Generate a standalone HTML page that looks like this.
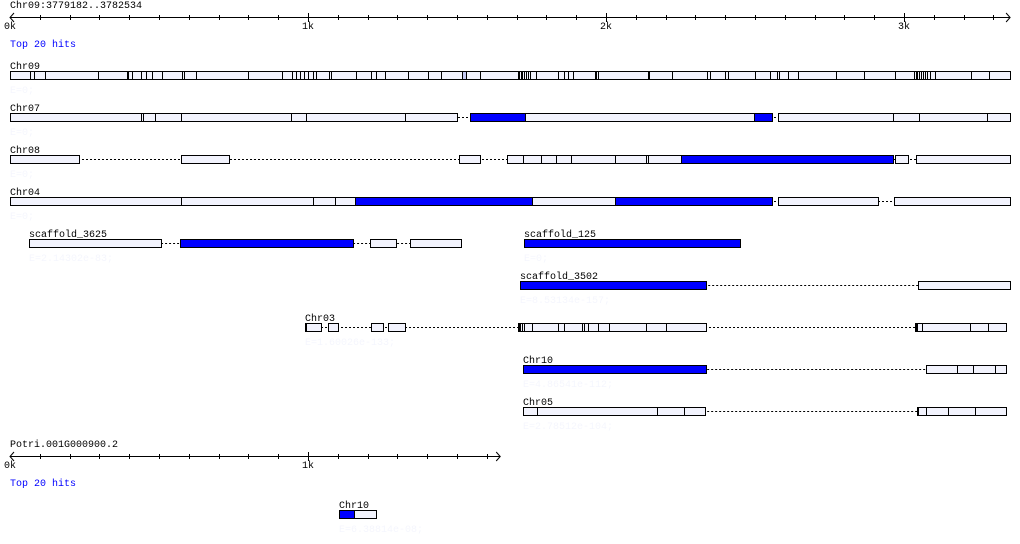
<!DOCTYPE html>
<html><head><meta charset="utf-8"><style>
html,body{margin:0;padding:0;background:#fff}
svg{display:block}
text{font-family:"Liberation Mono",monospace;font-size:10px}
</style></head><body>
<svg id="c" width="1020" height="544" xmlns="http://www.w3.org/2000/svg"></svg>
<script>
// bp coordinates
const titleTop = "Chr09:3779182..3782534";
const titleBottom = "Potri.001G000900.2";
const axisTopMax = 3356;
const axisBottomMax = 1645;
const tickLabels = ["0k","1k","2k","3k"];
const trackNames = ["Chr09","Chr07","Chr08","Chr04","scaffold_3625","scaffold_125","scaffold_3502","Chr03","Chr10","Chr05"];
const trackEvalues = ["E=0;","E=0;","E=0;","E=0;","E=2.14302e-83;","E=0;","E=8.53134e-157;","E=1.60026e-133;","E=4.86541e-112;","E=2.78512e-104;"];
const trackRows = [71,113,155,197,239,239,281,323,365,407];
const trackBlocks = [
 [[0,3356,"w"],[1517,1530,"s"]],
 [[0,1500,"w"],[1544,1728,"b"],[1728,2497,"w"],[2497,2557,"b"],[2577,3356,"w"]],
 [[0,232,"w"],[574,735,"w"],[1507,1577,"w"],[1668,2252,"w"],[2252,2963,"b"],[2970,3014,"w"],[3040,3356,"w"]],
 [[0,1158,"w"],[1158,1752,"b"],[1752,2030,"w"],[2030,2557,"b"],[2577,2913,"w"],[2967,3356,"w"]],
 [[64,507,"w"],[571,1151,"b"],[1208,1295,"w"],[1342,1514,"w"]],
 [[1725,2450,"b"]],
 [[1712,2336,"b"],[3047,3356,"w"]],
 [[990,1044,"w"],[1067,1101,"w"],[1211,1252,"w"],[1269,1326,"w"],[1705,2336,"w"],[3037,3343,"w"]],
 [[1722,2336,"b"],[3074,3343,"w"]],
 [[1722,2332,"w"],[3044,3343,"w"]]
];
const trackDividers = [
 [67,81,117,295,393,396,409,440,456,477,510,577,584,624,799,913,946,960,973,987,1000,1017,1027,1070,1077,1161,1211,1228,1258,1336,1403,1446,1517,1530,1577,1705,1708,1715,1718,1725,1732,1738,1745,1765,1839,1859,1872,1889,1963,1966,1973,2141,2144,2221,2339,2349,2399,2409,2500,2550,2574,2581,2611,2644,2772,2866,2970,3034,3040,3044,3050,3057,3064,3070,3077,3087,3104,3225,3285],
 [440,446,487,574,943,993,1326,2963,3050,3279],
 [1722,1782,1832,1883,2030,2134,2141],
 [574,1017,1091],
 [],[],[],
 [993,1708,1712,1718,1725,1752,1839,1859,1920,1926,1940,1973,2010,2134,2202,3040,3044,3061,3222,3282],
 [3178,3232,3306],
 [1769,2171,2262,3047,3074,3148,3239]
];
const bottomName = "Chr10";
const bottomEvalue = "E=6.38814e-08;";
const bottomBlocks = [[1104,1154,"b"],[1154,1228,"w"]];

const svg = document.getElementById('c');
const NS = "http://www.w3.org/2000/svg";
const X0 = 10, PX = 0.298;
function xs(bp){ return X0 + bp*PX; }
function mk(tag, attrs, parent){ const e=document.createElementNS(NS,tag); for(const k in attrs) e.setAttribute(k,attrs[k]); (parent||svg).appendChild(e); return e; }
function txt(x,y,s,fill,parent){ const t=mk('text',{x:x,y:y,fill:fill},parent); t.textContent=s; return t; }
const fills = {w:"#f2f3fd", b:"#0000ff", s:"#c4c8f2"};

function axis(y, maxBp, title, nLabels, name){
  const g = mk('g',{});
  
  
  const t = txt(10, y-9, title, "#000", g);
  
  
  const x1 = xs(maxBp);
  mk('line',{x1:X0,y1:y+0.5,x2:x1,y2:y+0.5,stroke:"#000","stroke-width":1},g);
  mk('polyline',{points:`${X0+4},${y-4} ${X0},${y+0.5} ${X0+4},${y+5}`,fill:"none",stroke:"#000"},g);
  mk('polyline',{points:`${x1-4},${y-4} ${x1},${y+0.5} ${x1-4},${y+5}`,fill:"none",stroke:"#000"},g);
  for(let bp=100; bp<maxBp; bp+=100){
    const x = Math.round(xs(bp))+0.5;
    const major = bp%1000===0;
    mk('line',{x1:x,y1:major?y-4:y-2,x2:x,y2:major?y+5:y+3,stroke:"#000"},g);
  }
  for(let i=0;i<nLabels;i++){
    const l = txt(xs(i*1000)-6, y+12, tickLabels[i], "#000", g);
    
    
  }
  const h = txt(10, y+30, "Top 20 hits", "#0000ff", g);
  
  
}
function track(name, ev, y, blocks, divs){
  const g = mk('g',{});
  
  
  const sx = xs(blocks[0][0]);
  const ex = xs(blocks[blocks.length-1][1]);
  mk('line',{x1:sx,y1:y+4.5,x2:ex,y2:y+4.5,stroke:"#000","stroke-dasharray":"2,2"},g);
  const lab = txt(Math.round(sx), y-2, name, "#000", g);
  
  
  blocks.forEach(b=>{
    const x = Math.round(xs(b[0]))+0.5, w = Math.max(1, Math.round(xs(b[1]))-Math.round(xs(b[0])));
    const r = mk('rect',{x:x,y:y+0.5,width:w,height:8,fill:fills[b[2]],stroke:"#000"},g);
    
    
  });
  divs.forEach(d=>{
    const x = Math.round(xs(d))+0.5;
    mk('line',{x1:x,y1:y,x2:x,y2:y+9,stroke:"#000"},g);
  });
  const e = txt(Math.round(sx), y+22, ev, "#f5f6fd", g);
  
  
}
axis(17, axisTopMax, titleTop, 4, 'top-axis');
for(let i=0;i<trackNames.length;i++) track(trackNames[i], trackEvalues[i], trackRows[i], trackBlocks[i], trackDividers[i]);
axis(456, axisBottomMax, titleBottom, 2, 'bottom-axis');
track(bottomName, bottomEvalue, 510, bottomBlocks, []);
</script>
</body></html>
